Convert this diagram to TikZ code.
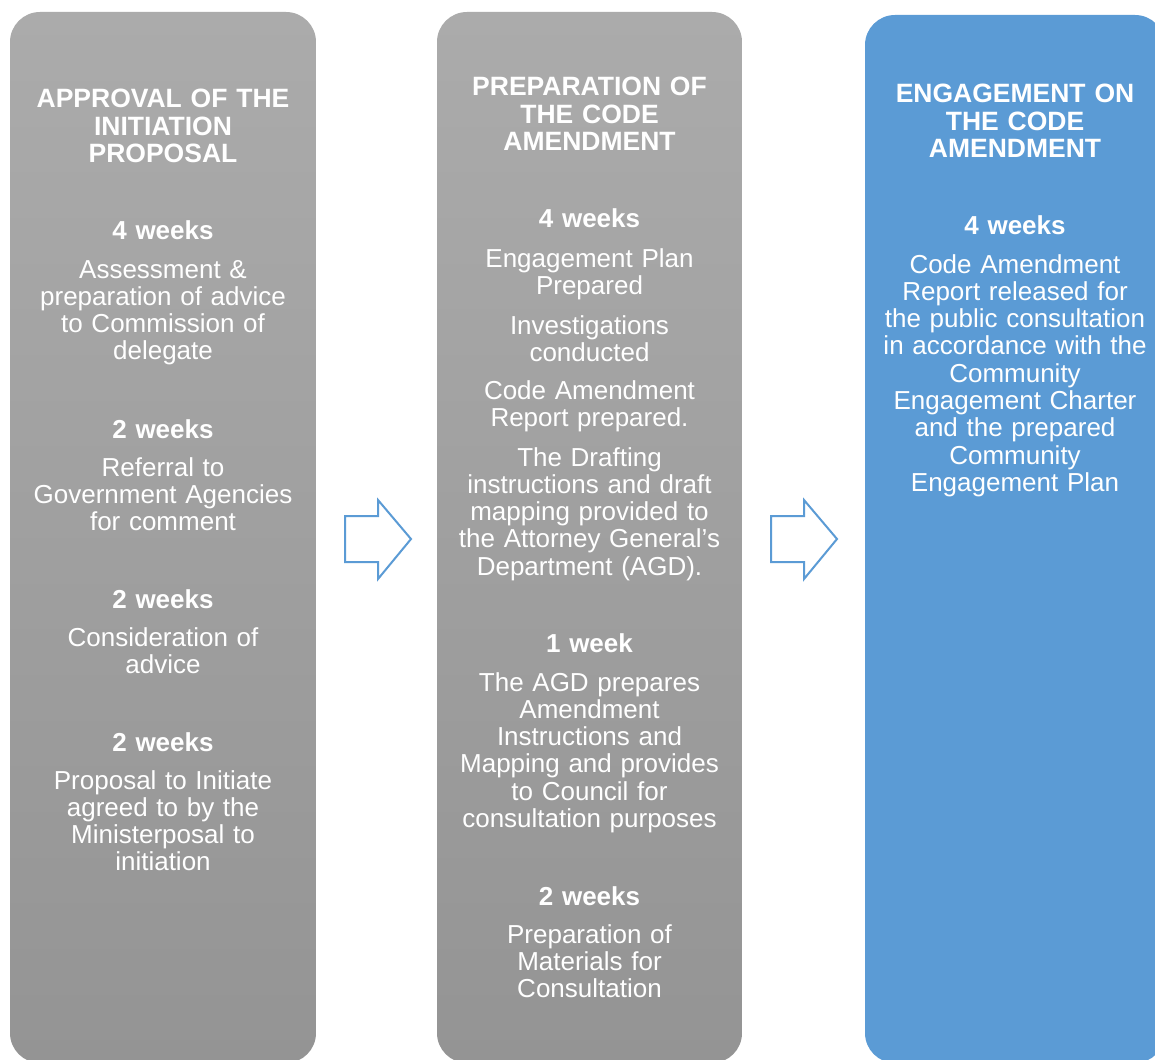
\documentclass[tikz,border=0pt]{standalone}
\usepackage{fontspec}
\setmainfont{Liberation Sans}
\definecolor{blu}{RGB}{91,155,213}
\definecolor{gtop}{RGB}{171,171,171}
\definecolor{gbot}{RGB}{148,148,148}
\begin{document}
\begin{tikzpicture}[x=1pt,y=-1pt,
  col/.style={rounded corners=30pt},
  graycol/.style={col, top color=gtop, bottom color=gbot},
  bluecol/.style={col, fill=blu},
  head/.style={text=white, font=\bfseries\fontsize{26.5}{27.5}\selectfont, align=center, text width=300pt, inner sep=0pt, anchor=base},
  dur/.style={text=white, font=\bfseries\fontsize{26}{27.3}\selectfont, align=center, text width=300pt, inner sep=0pt, anchor=base},
  body/.style={text=white, font=\fontsize{26}{27.3}\selectfont, align=center, text width=300pt, inner sep=0pt, anchor=base},
  blockarrow/.style={draw=blu, line width=2pt, fill=white, line join=miter}]
\clip (0,0) rectangle (1155,1059);
\fill[white] (0,0) rectangle (1155,1059);
% columns
\path[graycol] (10,12) rectangle (316,1063);
\path[graycol] (437,12) rectangle (742,1063);
\path[bluecol] (865,15) rectangle (1165,1063);
% block arrows
\draw[blockarrow] (345,516) -- (378,516) -- (378,500) -- (411,539) -- (378,579) -- (378,562) -- (345,562) -- cycle;
\draw[blockarrow] (771,516) -- (804,516) -- (804,500) -- (837,539) -- (804,579) -- (804,562) -- (771,562) -- cycle;
% column 1
\node[head] (h1) at (163,108) {APPROVAL OF THE\\INITIATION\\PROPOSAL};
\node[dur] (d11) at (163,240) {4 weeks};
\node[body] (b11) at (163,278) {Assessment \&\\preparation of advice\\to Commission of\\delegate};
\node[dur] (d12) at (163,438) {2 weeks};
\node[body] (b12) at (163,476) {Referral to\\Government Agencies\\for comment};
\node[dur] (d13) at (163,608) {2 weeks};
\node[body] (b13) at (163,646) {Consideration of\\advice};
\node[dur] (d14) at (163,751) {2 weeks};
\node[body] (b14) at (163,789) {Proposal to Initiate\\agreed to by the\\Ministerposal to\\initiation};
% column 2
\node[head] (h2) at (589.5,96) {PREPARATION OF\\THE CODE\\AMENDMENT};
\node[dur] (d21) at (589.5,228) {4 weeks};
\node[body] (b21) at (589.5,267) {Engagement Plan\\Prepared};
\node[body] (b22) at (589.5,334) {Investigations\\conducted};
\node[body] (b23) at (589.5,399) {Code Amendment\\Report prepared.};
\node[body] (b24) at (589.5,466) {The Drafting\\instructions and draft\\mapping provided to\\the Attorney General’s\\Department (AGD).};
\node[dur] (d22) at (589.5,652) {1 week};
\node[body] (b25) at (589.5,691) {The AGD prepares\\Amendment\\Instructions and\\Mapping and provides\\to Council for\\consultation purposes};
\node[dur] (d23) at (589.5,905) {2 weeks};
\node[body] (b26) at (589.5,943) {Preparation of\\Materials for\\Consultation};
% column 3
\node[head] (h3) at (1015,103) {ENGAGEMENT ON\\THE CODE\\AMENDMENT};
\node[dur] (d31) at (1015,235) {4 weeks};
\node[body] (b31) at (1015,273) {Code Amendment\\Report released for\\the public consultation\\in accordance with the\\Community\\Engagement Charter\\and the prepared\\Community\\Engagement Plan};
\end{tikzpicture}
\end{document}
